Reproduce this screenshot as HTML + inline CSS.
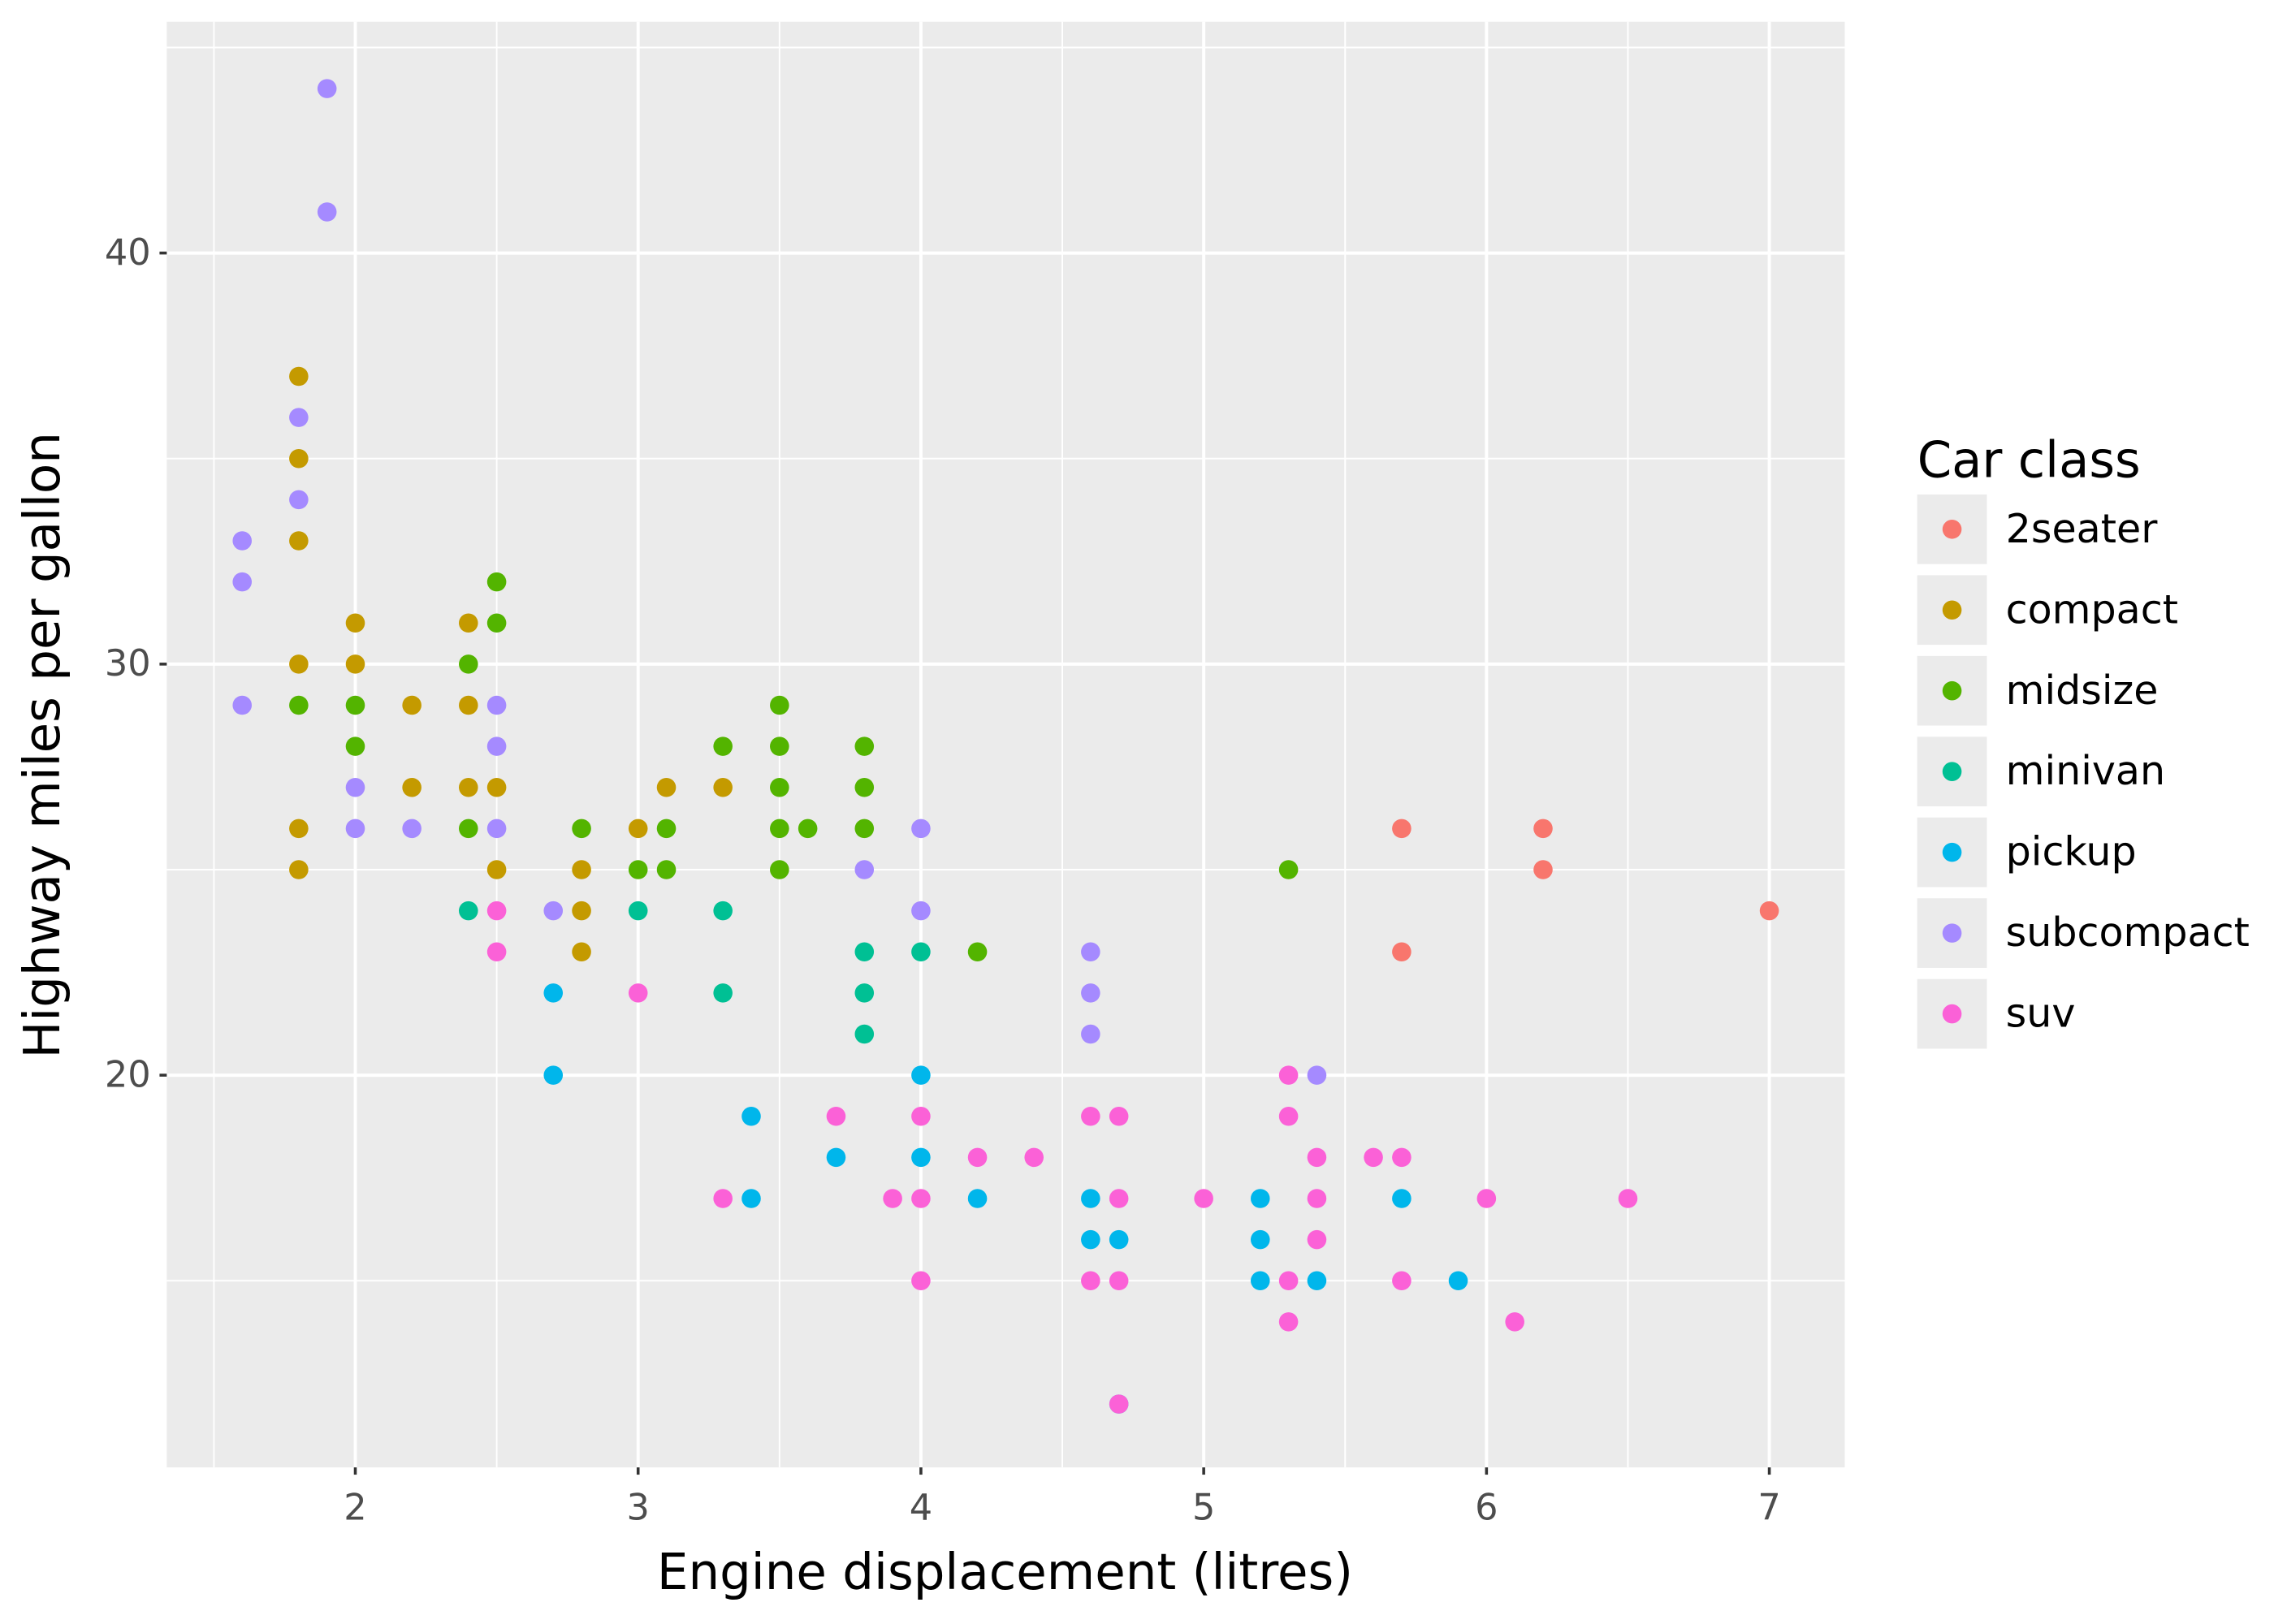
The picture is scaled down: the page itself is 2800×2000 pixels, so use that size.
<!DOCTYPE html>
<html><head><meta charset="utf-8"><style>html,body{margin:0;padding:0;background:#fff}svg{display:block}text{font-family:"DejaVu Sans","Liberation Sans",sans-serif}</style></head>
<body>
<svg id="s" xmlns="http://www.w3.org/2000/svg" width="2800" height="2000" viewBox="0 0 1568 1120">
<rect x="0" y="0" width="1568" height="1120" fill="#fff"/>
<rect x="115" y="15" width="1157" height="997" fill="#EBEBEB"/>
<g id="grid"></g>
<g id="pts"></g>
<g fill="#4D4D4D" font-size="20.5" id="ticks"></g>
<text x="693" y="1096" font-size="34.5" text-anchor="middle" fill="#000" textLength="480" lengthAdjust="spacingAndGlyphs">Engine displacement (litres)</text>
<text transform="translate(41,514) rotate(-90)" font-size="34.5" text-anchor="middle" fill="#000" textLength="432" lengthAdjust="spacingAndGlyphs">Highway miles per gallon</text>
<text x="1322" y="329" font-size="34.5" fill="#000" textLength="154" lengthAdjust="spacingAndGlyphs">Car class</text>
<g id="leg"></g>
</svg>
<script>
const ns="http://www.w3.org/2000/svg";
function el(p,t,a,txt){const e=document.createElementNS(ns,t);for(const k in a)e.setAttribute(k,a[k]);if(txt!==undefined)e.textContent=txt;document.getElementById(p).appendChild(e);return e;}
const X=d=>245+(d-2)*195, Y=h=>458-(h-30)*28.35;
for(let d=1.5;d<=7.01;d+=0.5){const maj=Math.abs(d-Math.round(d))<0.01;el("grid","line",{x1:X(d),x2:X(d),y1:15,y2:1012,stroke:"#fff","stroke-width":maj?2.2:1.1});}
for(let h=15;h<=45;h+=5){const maj=h%10==0;el("grid","line",{x1:115,x2:1272,y1:Y(h),y2:Y(h),stroke:"#fff","stroke-width":maj?2.2:1.1});}
for(let d=2;d<=7;d++){el("ticks","line",{x1:X(d),x2:X(d),y1:1012,y2:1017,stroke:"#333","stroke-width":2});el("ticks","text",{x:X(d),y:1048,"text-anchor":"middle","font-size":"25"},d);}
for(let h=20;h<=40;h+=10){el("ticks","line",{x1:110,x2:115,y1:Y(h),y2:Y(h),stroke:"#333","stroke-width":2});el("ticks","text",{x:104,y:Y(h)+8,"text-anchor":"end","font-size":"25"},h);}
const C={"2seater":"#F8766D",compact:"#C49A00",midsize:"#53B400",minivan:"#00C094",pickup:"#00B6EB",subcompact:"#A58AFF",suv:"#FB61D7"};
const P={
subcompact:[[1.9,44],[1.9,41],[1.6,33],[1.6,32],[1.6,29],[1.8,36],[1.8,34],[2.0,27],[2.0,26],[2.2,26],[2.5,29],[2.5,28],[2.5,26],[2.7,24],[3.8,25],[4.0,26],[4.0,24],[4.6,23],[4.6,22],[4.6,21],[5.4,20]],
compact:[[1.8,37],[1.8,35],[1.8,33],[1.8,30],[1.8,26],[1.8,25],[2.0,31],[2.0,30],[2.2,29],[2.2,27],[2.4,31],[2.4,29],[2.4,27],[2.5,27],[2.5,25],[2.8,25],[2.8,24],[2.8,23],[3.0,26],[3.1,27],[3.3,27]],
midsize:[[1.8,29],[2.0,29],[2.0,28],[2.4,30],[2.4,26],[2.5,32],[2.5,31],[2.8,26],[3.0,25],[3.1,26],[3.1,25],[3.3,28],[3.5,29],[3.5,28],[3.5,27],[3.5,26],[3.5,25],[3.6,26],[3.8,28],[3.8,27],[3.8,26],[4.2,23],[5.3,25]],
minivan:[[2.4,24],[3.0,24],[3.3,24],[3.3,22],[3.8,23],[3.8,22],[3.8,21],[4.0,23]],
pickup:[[2.7,22],[2.7,20],[3.4,19],[3.4,17],[3.7,18],[4.0,20],[4.0,18],[4.2,17],[4.6,17],[4.6,16],[4.7,16],[4.7,12],[5.2,17],[5.2,16],[5.2,15],[5.4,15],[5.7,17],[5.9,15]],
suv:[[2.5,24],[2.5,23],[3.0,22],[3.3,17],[3.7,19],[3.9,17],[4.0,19],[4.0,17],[4.0,15],[4.2,18],[4.4,18],[4.6,19],[4.6,15],[4.7,19],[4.7,17],[4.7,15],[4.7,12],[5.0,17],[5.3,20],[5.3,19],[5.3,15],[5.3,14],[5.4,18],[5.4,17],[5.4,16],[5.6,18],[5.7,18],[5.7,15],[6.0,17],[6.1,14],[6.5,17]],
"2seater":[[5.7,26],[5.7,23],[6.2,26],[6.2,25],[7.0,24]]};
for(const k of ["subcompact","compact","midsize","minivan","pickup","suv","2seater"])for(const [d,h] of P[k])el("pts","circle",{cx:X(d),cy:Y(h),r:6.6,fill:C[k]});
Object.keys(C).forEach((k,i)=>{const cy=365+i*55.7;el("leg","rect",{x:1322,y:cy-24,width:48,height:48,fill:"#EBEBEB"});el("leg","circle",{cx:1346,cy:cy,r:6.6,fill:C[k]});el("leg","text",{x:1383,y:cy+9,"font-size":"27.5",fill:"#000"},k);});
</script>
</body></html>
